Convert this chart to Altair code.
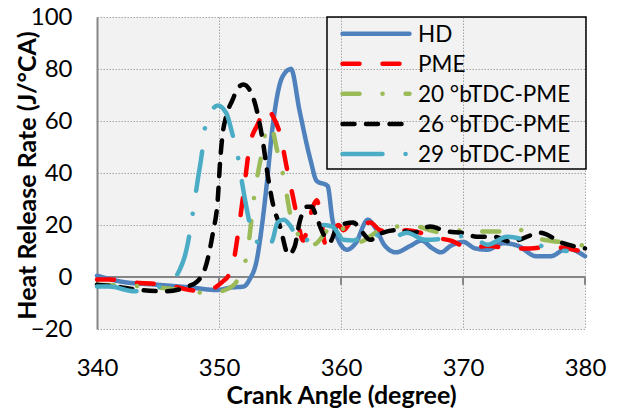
import altair as alt
import pandas as pd

series_names = ["HD", "PME", "20 °bTDC-PME", "26 °bTDC-PME", "29 °bTDC-PME"]
series_colors = ["#4F81BD", "#FF0000", "#9BBB59", "#000000", "#4BACC6"]
series_dashes = [[1, 0], [17, 23], [17, 23, 0.1, 23], [12, 11.5], [40, 23, 0.1, 23]]

hd_x = [340, 342, 345, 347.6, 349.8, 351.1, 352, 352.5, 353.1, 353.5, 353.9, 354.4, 355.2, 355.9,
        356.6, 357.5, 358, 358.9, 359.3, 359.8, 360.5, 361.2, 362.2, 362.8, 363.6, 364.5, 365.7,
        366.6, 367.5, 368.2, 369, 370, 371, 372, 373.3, 374.5, 376, 377.2, 378.5, 380]
hd_y = [0.5, -1.8, -3, -4, -5, -4, -3.7, -1, 6.6, 19, 35, 58, 77, 80,
        64, 45, 37, 35, 22, 14, 10.5, 13, 22, 19, 12, 9.5, 12,
        14, 11, 9.5, 12, 13.5, 11, 10.5, 13, 12, 8, 8, 11, 8]

pme_x = [340, 341, 343.5, 345.7, 347.6, 348.7, 349.7, 350.3, 350.7, 351.1, 351.6, 352, 352.5,
         353.2, 353.9, 354.4, 355, 355.6, 356.1, 356.4, 356.9, 357.3, 357.7, 358, 358.3, 358.7,
         359.2, 359.8, 360.2, 361, 361.6, 362.4, 363.2, 364.5, 365.4, 366.5, 367.9, 369, 370.6,
         372, 373.9, 375.5, 377.1, 378.5, 380]
pme_y = [-1, -1, -2.3, -3, -5, -5.5, -4, -1.8, 0, 4, 18, 32, 50,
         59, 65, 62, 55, 41, 30, 23, 14, 20, 27, 29.5, 25, 13,
         15, 20, 18, 22, 20, 21, 18, 17, 18, 17, 15, 14, 11,
         12, 11, 11, 11.7, 11, 9.5]

b20_x = [340, 343, 344.1, 346, 348.4, 349.5, 350.5, 351.4, 352.3, 353, 353.4, 353.9, 354.2, 354.8,
         355.4, 355.8, 356.6, 357.5, 358, 358.7, 359.5, 360.5, 361.6, 362.5, 363.5, 364.8, 366.2,
         367.3, 368.4, 369.2, 371, 373, 374.1, 376, 378.8, 380]
b20_y = [-3, -3.4, -3.7, -4.5, -6, -6, -5, -2, 9, 35, 45, 57, 58.5, 48,
         36, 25, 15.5, 12, 13, 17, 21, 17, 13.6, 16, 19, 19.4, 19.4,
         18, 17, 18, 17.5, 17.5, 19, 15, 13, 12]

b26_x = [340, 341.6, 343.5, 345.7, 347.4, 348.2, 349, 349.5, 349.9, 350.1, 350.3, 350.6, 351.1,
         351.6, 352, 352.8, 353.2, 353.6, 354, 354.4, 355, 355.7, 356.2, 356.6, 357.2, 357.6, 358,
         358.5, 359.1, 359.7, 360.3, 361, 361.7, 362.4, 363.4, 364.6, 365.9, 367.3, 368.7, 370,
         371.1, 372.5, 373.9, 374.6, 376.3, 378.2, 380]
b26_y = [-3, -3.7, -5, -5.5, -3.7, -1.8, 5.5, 17, 30, 45, 55, 62, 68,
         73, 74, 69, 62, 52, 39, 28.5, 19.5, 8.6, 11.7, 21, 27, 27, 23,
         17, 13.6, 19.5, 20.5, 21, 17.5, 14.3, 17, 18, 17, 19.4, 17.5, 17,
         15.5, 15.5, 13.6, 14.3, 17, 13, 11]

b29_x = [340, 341, 343.1, 344.9, 346, 346.8, 347.2, 347.5, 347.8, 348.3, 348.6, 348.8, 349.3,
         349.9, 350.6, 351.1, 351.6, 351.9, 352.2, 352.5, 353.2, 353.8, 354.4, 354.8, 355.3, 355.8,
         356.4, 356.9, 357.7, 358.5, 359.3, 360.2, 361, 362.1, 363, 364.3, 365.4, 366.9, 368.9,
         370.6, 372, 373.6, 375.5, 377, 378.5]
b29_y = [-3.7, -3.7, -5.5, -4, -2.3, 3, 8, 14.3, 23, 38.6, 47.6, 56, 63,
         66, 63, 55, 45, 36, 28, 21, 13, 10.5, 14.3, 21, 22, 20,
         15, 13, 17.5, 20, 19.4, 14.3, 14, 17, 16, 15.5, 17, 14.3, 15,
         16, 12.4, 15.5, 13.6, 11, 10]

x_ticks = [340, 350, 360, 370, 380]
y_ticks = [-20, 0, 20, 40, 60, 80, 100]

frames = []
for name, xs, ys in zip(series_names,
                        [hd_x, pme_x, b20_x, b26_x, b29_x],
                        [hd_y, pme_y, b20_y, b26_y, b29_y]):
    frames.append(pd.DataFrame({"angle": xs, "hrr": ys, "series": name}))
df = pd.concat(frames, ignore_index=True)
legend_df = pd.DataFrame({"series": series_names, "row": list(range(len(series_names)))})

FONT = "Lato"

x_scale = alt.Scale(domain=[340, 380], nice=False, zero=False)
y_scale = alt.Scale(domain=[-20, 100], nice=False, zero=False)
color_scale = alt.Scale(domain=series_names, range=series_colors)
dash_scale = alt.Scale(domain=series_names, range=series_dashes)
row_scale = alt.Scale(domain=[0, 4], range=[16.7, 137])

x_axis = alt.Axis(values=x_ticks, title="Crank Angle (degree)", domain=False, ticks=False,
                  grid=True, gridColor="#A6A6A6", gridDash=[1.5, 1.5], gridWidth=1,
                  labelFlush=False,
                  labelFont=FONT, labelFontSize=24, labelColor="black", labelPadding=27,
                  titleFont=FONT, titleFontSize=25, titleFontWeight="bold", titleColor="black",
                  titlePadding=3)
y_axis = alt.Axis(values=y_ticks, title="Heat Release Rate (J/°CA)",
                  domain=True, domainColor="#868686", domainWidth=2, ticks=False,
                  grid=True, gridColor="#A6A6A6", gridDash=[1.5, 1.5], gridWidth=1,
                  labelFlush=False,
                  labelFont=FONT, labelFontSize=24, labelColor="black", labelPadding=25,
                  titleFont=FONT, titleFontSize=25, titleFontWeight="bold", titleColor="black",
                  titleX=-70, titleY=158, titleAlign="center", titleBaseline="middle",
                  titleAngle=270)

zero_line = alt.Chart(pd.DataFrame({"a": [340], "b": [380], "y": [0]})).mark_rule(
    color="#868686", strokeWidth=2
).encode(x=alt.X("a:Q", scale=x_scale, axis=x_axis), x2="b:Q",
         y=alt.Y("y:Q", scale=y_scale, axis=y_axis))

tick_df = pd.DataFrame({"x": x_ticks, "y0": [0] * len(x_ticks), "y1": [-3] * len(x_ticks)})
zero_ticks = alt.Chart(tick_df).mark_rule(color="#868686", strokeWidth=2).encode(
    x=alt.X("x:Q", scale=x_scale), y=alt.Y("y0:Q", scale=y_scale), y2="y1:Q")

base = alt.Chart(df)
line_layers = [zero_line, zero_ticks]
for name in series_names:
    line_layers.append(
        base.transform_filter(alt.datum.series == name).mark_line(
            strokeWidth=4.5, strokeCap="round", strokeJoin="round", interpolate="monotone"
        ).encode(
            x=alt.X("angle:Q", scale=x_scale),
            y=alt.Y("hrr:Q", scale=y_scale),
            color=alt.Color("series:N", scale=color_scale, legend=None),
            strokeDash=alt.StrokeDash("series:N", scale=dash_scale, legend=None),
        )
    )
main = alt.layer(*line_layers)

leg_base = alt.Chart(legend_df)
leg_box = alt.Chart(pd.DataFrame({"k": [0]})).mark_rect(
    fill="transparent", stroke="black", strokeWidth=1.5
).encode(x=alt.value(230), x2=alt.value(489), y=alt.value(0), y2=alt.value(152))
leg_lines = leg_base.mark_rule(strokeWidth=4.5, strokeCap="round").encode(
    x=alt.value(245.5), x2=alt.value(312.5),
    y=alt.Y("row:Q", scale=row_scale, axis=None),
    color=alt.Color("series:N", scale=color_scale, legend=None),
    strokeDash=alt.StrokeDash("series:N", scale=dash_scale, legend=None),
)
leg_text = leg_base.mark_text(align="left", baseline="middle", font=FONT, fontSize=22.5,
                              color="black", dy=1).encode(
    x=alt.value(321),
    y=alt.Y("row:Q", scale=row_scale, axis=None),
    text="series:N",
)
legend_layer = alt.layer(leg_box, leg_lines, leg_text)

chart = alt.layer(main, legend_layer).resolve_scale(y="independent").properties(
    width=488, height=312,
    autosize=alt.AutoSizeParams(type="none"),
    padding={"left": 97, "top": 17, "right": 34, "bottom": 83},
    background="white",
).configure_view(fill="#F2F2F2", stroke=None)

chart.save("out.html", embed_options={"renderer": "svg", "actions": False})
